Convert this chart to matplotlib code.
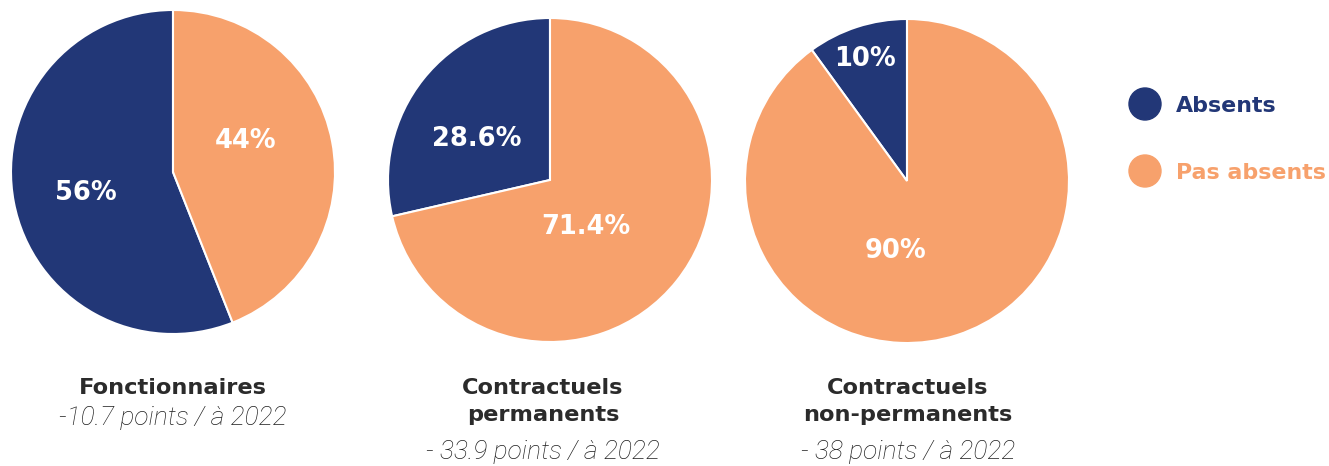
import matplotlib.pyplot as plt
from matplotlib.patches import Circle

# share of staff absent / not absent, by contract type
groups = ['Fonctionnaires', 'Contractuels\npermanents', 'Contractuels\nnon-permanents']
subtitles = ['-10.7 points / à 2022', '- 33.9 points / à 2022', '- 38 points / à 2022']
absents = [56, 28.6, 10]
pas_absents = [44, 71.4, 90]
pct_labels = [['56%', '44%'], ['28.6%', '71.4%'], ['10%', '90%']]
legend_labels = ['Absents', 'Pas absents']

navy = '#223777'
orange = '#F7A16C'
grey = '#2b2b2b'

plt.rcParams['font.family'] = ['DejaVu Sans']
light_font = ['Roboto', 'DejaVu Sans']

W, H = 1329, 466
fig = plt.figure(figsize=(W / 100, H / 100), dpi=100)

# pie centres and radius in pixels
centres = [(173, 172), (550, 180), (907, 181)]
radius = 162
# where the percentage labels sit inside each pie (unit circle coords)
label_pos = [[(-0.54, -0.13), (0.45, 0.19)],
             [(-0.45, 0.25), (0.22, -0.29)],
             [(-0.26, 0.75), (-0.07, -0.43)]]

for i, (cx, cy) in enumerate(centres):
    ax = fig.add_axes([(cx - radius) / W, (H - cy - radius) / H,
                       2 * radius / W, 2 * radius / H])
    ax.pie([absents[i], pas_absents[i]], colors=[navy, orange],
           startangle=90, counterclock=True,
           wedgeprops=dict(edgecolor='white', linewidth=1.5))
    ax.set_xlim(-1.0, 1.0)
    ax.set_ylim(-1.0, 1.0)
    ax.set_aspect('equal')
    for (x, y), txt in zip(label_pos[i], pct_labels[i]):
        ax.text(x, y, txt, color='white', fontsize=18.5, fontweight='bold',
                ha='center', va='center')

# titles under each pie
title_x = [173, 543, 908]
for i, t in enumerate(groups):
    fig.text(title_x[i] / W, 1 - 378 / H, t, ha='center', va='top',
             fontsize=16.2, fontweight='bold', color=grey, linespacing=1.45)
    sub_y = 418 if '\n' not in t else 452
    fig.text(title_x[i] / W, 1 - sub_y / H, subtitles[i], ha='center',
             va='center', fontsize=19, style='italic', fontweight='light',
             color='#1e1e1e', family=light_font)

# legend
leg_colors = [navy, orange]
leg_y = [104, 171]
lax = fig.add_axes([0, 0, 1, 1], facecolor='none')
lax.set_xlim(0, W)
lax.set_ylim(H, 0)
lax.axis('off')
for lab, col, y in zip(legend_labels, leg_colors, leg_y):
    lax.add_patch(Circle((1145, y), 16, color=col))
    lax.text(1176, y + 2, lab, color=col, fontsize=15.9, fontweight='bold',
             va='center', ha='left')

fig.savefig('out.png', dpi=100)
